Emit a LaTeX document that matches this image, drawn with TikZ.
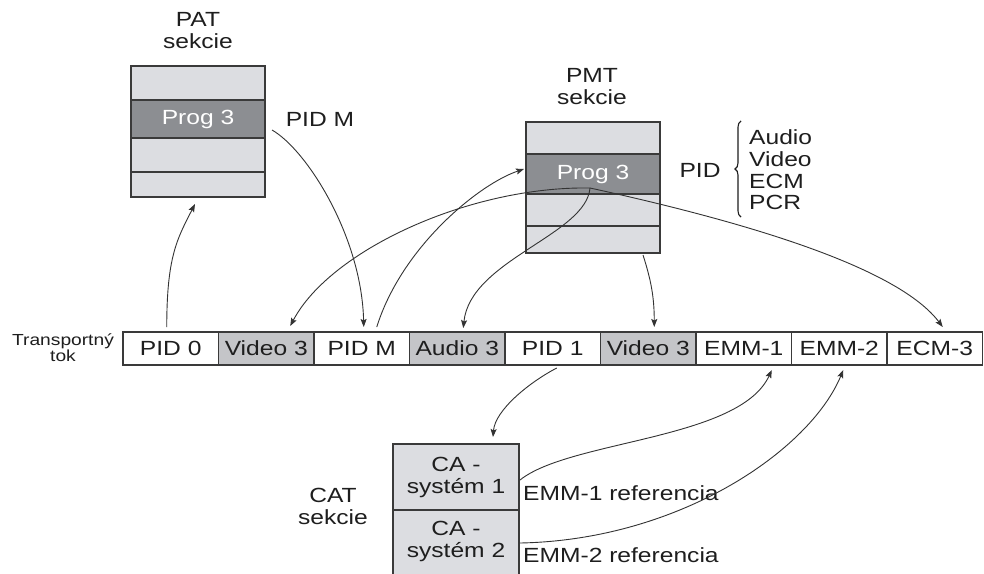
\documentclass[tikz,border=0pt]{standalone}
\usepackage{fontspec}
\setmainfont{Liberation Sans}[FakeStretch=1.2]
\usetikzlibrary{arrows.meta,decorations.pathreplacing}
\definecolor{lightbox}{HTML}{DCDDE1}
\definecolor{darkrow}{HTML}{8C8E92}
\definecolor{cellgray}{HTML}{C4C5C8}
\definecolor{edgecol}{HTML}{3A3A3A}
\definecolor{textcol}{HTML}{1E1E1E}
\definecolor{arrowcol}{HTML}{333333}
\begin{document}
\begin{tikzpicture}[x=1pt,y=-1pt,
  lbl/.style={font=\fontsize{20.5}{22}\selectfont, text=textcol, align=center, inner sep=0},
  smalllbl/.style={font=\fontsize{16}{14}\selectfont, text=textcol, align=center, inner sep=0},
  boxrow/.style={draw=edgecol, line width=1.3pt, fill=lightbox, anchor=north west,
    minimum width=134pt, inner sep=0, outer sep=0},
  progrow/.style={boxrow, fill=darkrow, text=white, font=\fontsize{20.5}{22}\selectfont},
  cell/.style={draw=edgecol, line width=1.3pt, fill=white, anchor=north west,
    minimum width=95.5pt, minimum height=33pt, inner sep=0, outer sep=0,
    font=\fontsize{20.5}{22}\selectfont, text=textcol},
  graycell/.style={cell, fill=cellgray},
  conn/.style={draw=arrowcol, line width=0.9pt, -{Stealth[length=8pt,width=6pt,inset=1.5pt]}}
]
\useasboundingbox (0,0) rectangle (984,573);
\fill[white] (0,0) rectangle (984,573);

% PAT
\node[lbl] (pattitle) at (198,31) {PAT\\sekcie};
\node[boxrow, minimum height=34pt] (pat1) at (131,66) {};
\node[progrow, minimum height=38pt] (pat2) at (131,100) {Prog 3};
\node[boxrow, minimum height=34pt] (pat3) at (131,138) {};
\node[boxrow, minimum height=25pt] (pat4) at (131,172) {};
\node[lbl] (pidm) at (320,119) {PID M};

% PMT
\node[lbl] (pmttitle) at (592,87) {PMT\\sekcie};
\node[boxrow, minimum height=32pt] (pmt1) at (526,122) {};
\node[progrow, minimum height=40pt] (pmt2) at (526,154) {Prog 3};
\node[boxrow, minimum height=32pt] (pmt3) at (526,194) {};
\node[boxrow, minimum height=27pt] (pmt4) at (526,226) {};
\node[lbl] (pidlbl) at (700,170) {PID};
\draw[line width=1.1pt, textcol, decorate, decoration={brace, amplitude=6pt}]
  (741,217) -- (741,121);
\node[lbl, anchor=west] (audio) at (749,137) {Audio};
\node[lbl, anchor=west] (video) at (749,159) {Video};
\node[lbl, anchor=west] (ecm) at (749,181) {ECM};
\node[lbl, anchor=west] (pcr) at (749,202) {PCR};

% Transport stream
\node[smalllbl] (tslbl) at (63,348) {Transportný\\tok};
\node[cell] (s1) at (123,332) {PID 0};
\node[graycell] (s2) at (218.5,332) {Video 3};
\node[cell] (s3) at (314,332) {PID M};
\node[graycell] (s4) at (409.5,332) {Audio 3};
\node[cell] (s5) at (505,332) {PID 1};
\node[graycell] (s6) at (600.5,332) {Video 3};
\node[cell] (s7) at (696,332) {EMM-1};
\node[cell] (s8) at (791.5,332) {EMM-2};
\node[cell] (s9) at (887,332) {ECM-3};

% CAT
\node[lbl] (cattitle) at (333,506) {CAT\\sekcie};
\node[boxrow, minimum width=126pt, minimum height=66pt, lbl, text=textcol] (cat1) at (393,444) {CA -\\systém 1};
\node[boxrow, minimum width=126pt, minimum height=80pt] (cat2) at (393,510) {};
\node[lbl] (cat2txt) at (456,541) {CA -\\systém 2};
\node[lbl, anchor=west] (ref1) at (523,493) {EMM-1 referencia};
\node[lbl, anchor=west] (ref2) at (523,555) {EMM-2 referencia};

% connectors
\coordinate (hub) at ([shift={(-3pt,-14pt)}]pmt2.center);
\draw[conn] ([shift={(-4pt,5pt)}]s1.north) .. controls +(0,-70) and +(-18,35) .. ([shift={(-3pt,-7pt)}]pat4.south);
\draw[conn] ([shift={(7pt,-11pt)}]pat2.east) .. controls +(35,20) and +(-2,-90) .. ([shift={(2pt,5pt)}]s3.north);
\draw[conn] ([shift={(15pt,5pt)}]s3.north) .. controls +(25,-80) and +(-45,15) .. ([shift={(-2pt,5pt)}]pmt2.west);
\draw[conn] (hub) .. controls +(-120,-2) and +(40,-76) .. ([shift={(24pt,6pt)}]s2.north);
\draw[conn] (hub) .. controls +(-4,47) and +(7,-68) .. ([shift={(6pt,4pt)}]s4.north);
\draw[conn] (hub) .. controls +(170,37) and +(-43,-57) .. ([shift={(8pt,5pt)}]s9.north);
\draw[conn] ([shift={(50pt,-2pt)}]pmt4.south) .. controls +(8,25) and +(0,-30) .. ([shift={(6pt,5pt)}]s6.north);
\draw[conn] ([shift={(4pt,-3pt)}]s5.south) .. controls +(-27,14) and +(2,-27) .. ([shift={(37pt,7pt)}]cat1.north);
\draw[conn] ([shift={(1pt,-3pt)}]cat1.east) .. controls +(50,-40) and +(-32,70) .. ([shift={(28pt,-5pt)}]s7.south);
\draw[conn] ([shift={(1pt,7pt)}]cat2.east) .. controls +(160,-3) and +(-33,80) .. ([shift={(4pt,-5pt)}]s8.south);
\end{tikzpicture}
\end{document}
